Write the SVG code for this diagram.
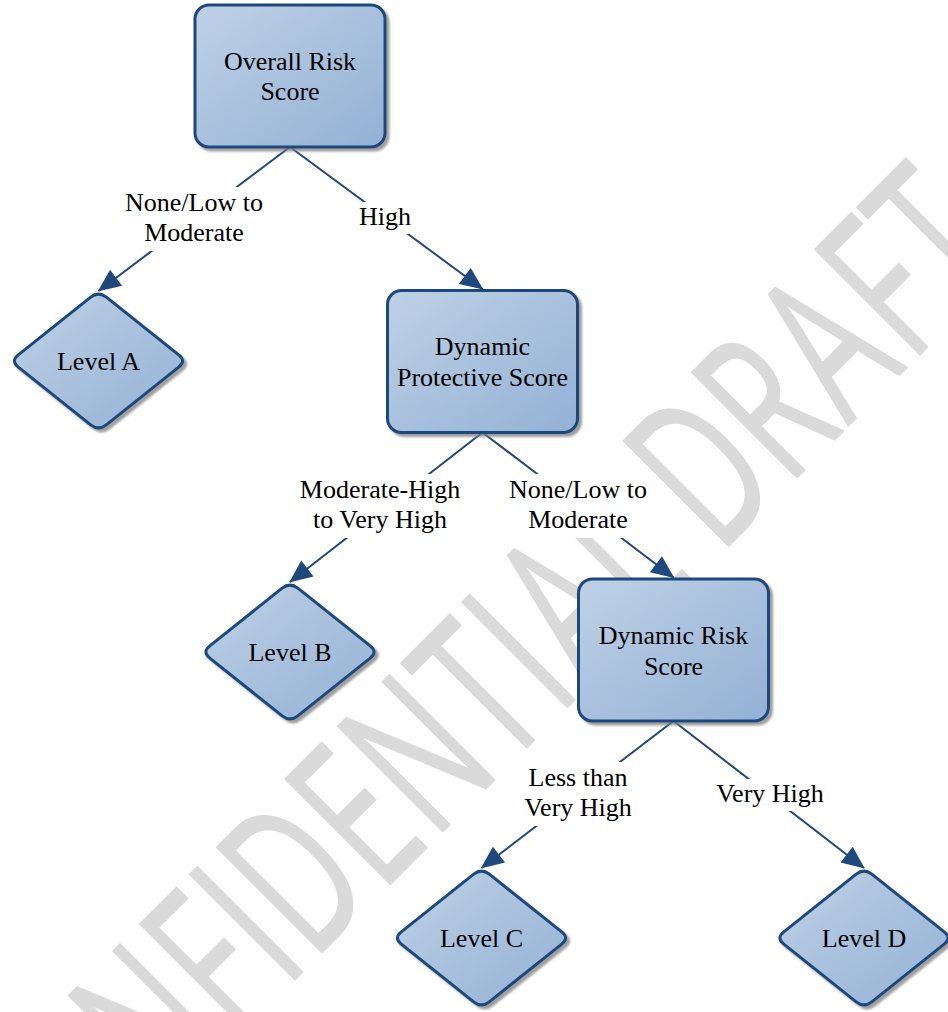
<svg xmlns="http://www.w3.org/2000/svg" width="948" height="1012" viewBox="0 0 948 1012">
  <defs>
    <linearGradient id="fillGrad" x1="0" y1="0" x2="1" y2="1">
      <stop offset="0" stop-color="#bfd1e6"/>
      <stop offset="1" stop-color="#93b1d5"/>
    </linearGradient>
    <filter id="shadow" x="-10%" y="-10%" width="130%" height="130%">
      <feDropShadow dx="3" dy="3" stdDeviation="1" flood-color="#7f7f7f" flood-opacity="0.75"/>
    </filter>
    <marker id="arrow" markerUnits="userSpaceOnUse" viewBox="-24 -12 26 24" refX="0" refY="0" markerWidth="26" markerHeight="24" orient="auto">
      <path d="M1,0 L-22,-10 L-22,10 Z" fill="#1f497d"/>
    </marker>
    <path id="diamond" d="M-7.8,-63.8 Q0,-70 7.8,-63.8 L80.2,-6.2 Q88,0 80.2,6.2 L7.8,63.8 Q0,70 -7.8,63.8 L-80.2,6.2 Q-88,0 -80.2,-6.2 Z"/>
    <style>
      .box { fill: url(#fillGrad); stroke: #1f497d; stroke-width: 3; filter: url(#shadow); }
      .lbl { font-family: "Liberation Serif", "Times New Roman", serif; font-size: 26px; fill: #000; text-anchor: middle; }
      .conn { stroke: #1f497d; stroke-width: 2; fill: none; marker-end: url(#arrow); }
      .lblbg { fill: #ffffff; }
      .wm { font-family: "Open Sans", "Liberation Sans", sans-serif; font-size: 208px; font-weight: 400; fill: #dadada; stroke: #dadada; stroke-width: 2; stroke-linejoin: round; text-anchor: middle; }
    </style>
  </defs>

  <rect x="0" y="0" width="948" height="1012" fill="#ffffff"/>

  <text id="watermark" class="wm" transform="rotate(-45) scale(0.63,1)" y="901" x="-1290 -1143 -982.5 -847.1 -759.7 -652.9 -517.3 -378.3 -239.2 -148.4 -46.3 76.7 156.2 259.7 402.2 540 667.8 784.3">CONFIDENTIAL DRAFT</text>

  <g id="connectors">
    <line class="conn" x1="290" y1="147" x2="98.5" y2="291"/>
    <line class="conn" x1="290" y1="147" x2="482.5" y2="289"/>
    <line class="conn" x1="482.5" y1="432.5" x2="290" y2="582"/>
    <line class="conn" x1="482.5" y1="432.5" x2="673.5" y2="577.5"/>
    <line class="conn" x1="673.5" y1="721" x2="481.5" y2="868"/>
    <line class="conn" x1="673.5" y1="721" x2="864" y2="868"/>
    <g id="connector-labels">
      <rect class="lblbg" x="121" y="187" width="146" height="64"/>
      <text class="lbl" x="194" y="211">None/Low to</text>
      <text class="lbl" x="194" y="241">Moderate</text>
      <rect class="lblbg" x="356" y="202" width="58" height="32"/>
      <text class="lbl" x="385" y="225">High</text>
      <rect class="lblbg" x="297" y="474" width="166" height="64"/>
      <text class="lbl" x="380" y="498">Moderate-High</text>
      <text class="lbl" x="380" y="528">to Very High</text>
      <rect class="lblbg" x="505" y="474" width="146" height="64"/>
      <text class="lbl" x="578" y="498">None/Low to</text>
      <text class="lbl" x="578" y="528">Moderate</text>
      <rect class="lblbg" x="520" y="762" width="116" height="64"/>
      <text class="lbl" x="578" y="786">Less than</text>
      <text class="lbl" x="578" y="816">Very High</text>
      <rect class="lblbg" x="712" y="779" width="116" height="32"/>
      <text class="lbl" x="770" y="802">Very High</text>
    </g>
  </g>

  <g id="node-overall-risk">
    <rect class="box" x="195" y="5" width="190" height="142" rx="14"/>
    <text class="lbl" x="290" y="70">Overall Risk</text>
    <text class="lbl" x="290" y="100">Score</text>
  </g>
  <g id="node-dynamic-protective">
    <rect class="box" x="387.5" y="290.5" width="190" height="142" rx="14"/>
    <text class="lbl" x="482.5" y="355">Dynamic</text>
    <text class="lbl" x="482.5" y="386">Protective Score</text>
  </g>
  <g id="node-dynamic-risk">
    <rect class="box" x="578.5" y="579" width="190" height="142" rx="14"/>
    <text class="lbl" x="673.5" y="644">Dynamic Risk</text>
    <text class="lbl" x="673.5" y="675">Score</text>
  </g>
  <g id="node-level-a">
    <use href="#diamond" class="box" transform="translate(98.5,361)"/>
    <text class="lbl" x="98.5" y="370">Level A</text>
  </g>
  <g id="node-level-b">
    <use href="#diamond" class="box" transform="translate(290,652)"/>
    <text class="lbl" x="290" y="661">Level B</text>
  </g>
  <g id="node-level-c">
    <use href="#diamond" class="box" transform="translate(481.5,938)"/>
    <text class="lbl" x="481.5" y="947">Level C</text>
  </g>
  <g id="node-level-d">
    <use href="#diamond" class="box" transform="translate(864,938)"/>
    <text class="lbl" x="864" y="947">Level D</text>
  </g>
</svg>
